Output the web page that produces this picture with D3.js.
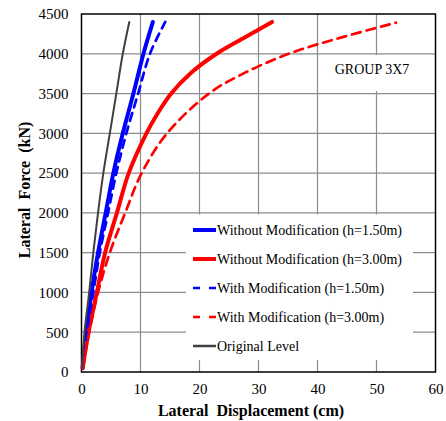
<!DOCTYPE html>
<html>
<head>
<meta charset="utf-8">
<script src="https://cdn.jsdelivr.net/npm/d3@7"></script>
<style>
  html, body { margin: 0; padding: 0; background: #fff; }
  svg { display: block; }
  svg text { font-family: "Liberation Serif", "Times New Roman", serif; fill: #000; }
</style>
</head>
<body>
<svg id="chart" width="446" height="421"></svg>
<script>
// Pushover curves: lateral displacement (cm) against lateral force (kN)
const xTicks = [0, 10, 20, 30, 40, 50, 60];
const yTicks = [0, 500, 1000, 1500, 2000, 2500, 3000, 3500, 4000, 4500];

const forceBlue = [50, 500, 1000, 1500, 2000, 2500, 3000, 3500, 4000, 4400];
const dispBlue  = [0.2, 0.8, 1.7, 2.8, 4.1, 5.4, 7.0, 8.8, 10.5, 12.1];

const forceRed = [50, 500, 1000, 1500, 2000, 2500, 3000, 3250, 3500, 3750, 4000, 4210, 4400];
const dispRed  = [0.2, 1.2, 2.6, 4.0, 6.0, 8.0, 11.0, 12.9, 15.2, 18.4, 22.9, 27.8, 32.3];

const forceBlueMod = [50, 500, 1000, 1500, 2000, 2500, 3000, 3500, 4000, 4400];
const dispBlueMod  = [0.2, 0.9, 2.0, 3.1, 4.5, 5.9, 7.6, 9.6, 11.6, 14.2];

const forceRedMod = [50, 500, 1000, 1500, 2000, 2500, 3000, 3500, 3750, 4000, 4200, 4390];
const dispRedMod  = [0.2, 1.3, 2.8, 4.8, 7.4, 10.2, 14.5, 21.6, 27.4, 35.1, 43.8, 53.3];

const forceOrig = [50, 500, 1000, 1500, 2000, 2500, 3000, 3500, 4000, 4400];
const dispOrig  = [0.1, 0.5, 1.3, 2.0, 2.8, 3.7, 4.8, 5.9, 7.0, 8.1];

const seriesNames = [
  "Without Modification (h=1.50m)",
  "Without Modification (h=3.00m)",
  "With Modification (h=1.50m)",
  "With Modification (h=3.00m)",
  "Original Level"
];

const series = [
  { name: seriesNames[0], x: dispBlue,    y: forceBlue,    color: "#0000ff", width: 4,   dash: null },
  { name: seriesNames[1], x: dispRed,     y: forceRed,     color: "#ff0000", width: 4,   dash: null },
  { name: seriesNames[2], x: dispBlueMod, y: forceBlueMod, color: "#0000ff", width: 2.7, dash: "8,6" },
  { name: seriesNames[3], x: dispRedMod,  y: forceRedMod,  color: "#ff0000", width: 2.7, dash: "9,6" },
  { name: seriesNames[4], x: dispOrig,    y: forceOrig,    color: "#404040", width: 2,   dash: null }
];

const svg = d3.select("#chart");
const plot = { left: 81.5, right: 435.5, top: 14, bottom: 372 };

const x = d3.scaleLinear().domain([0, 60]).range([plot.left, plot.right]);
const y = d3.scaleLinear().domain([0, 4500]).range([plot.bottom, plot.top]);

// grid
const grid = svg.append("g").attr("stroke", "#8c8c8c").attr("stroke-width", 1.2);
grid.selectAll("line.v").data(xTicks.slice(1, -1)).join("line")
  .attr("x1", d => x(d)).attr("x2", d => x(d))
  .attr("y1", plot.top).attr("y2", plot.bottom);
grid.selectAll("line.h").data(yTicks.slice(1, -1)).join("line")
  .attr("x1", plot.left).attr("x2", plot.right)
  .attr("y1", d => y(d)).attr("y2", d => y(d));

// axes (labels only, no outward ticks)
const xAxis = svg.append("g").attr("transform", `translate(0,${plot.bottom})`)
  .call(d3.axisBottom(x).tickValues(xTicks).tickFormat(d3.format("d")).tickSize(0).tickPadding(11));
const yAxis = svg.append("g").attr("transform", `translate(${plot.left},0)`)
  .call(d3.axisLeft(y).tickValues(yTicks).tickFormat(d3.format("d")).tickSize(0).tickPadding(13));
[xAxis, yAxis].forEach(a => {
  a.attr("font-family", null).attr("font-size", null);
  a.select(".domain").remove();
  a.selectAll("text").style("font-size", "15px");
});

// frame
svg.append("rect")
  .attr("x", plot.left).attr("y", plot.top)
  .attr("width", plot.right - plot.left).attr("height", plot.bottom - plot.top)
  .attr("fill", "none").attr("stroke", "#000").attr("stroke-width", 1.5);

// curves
const line = d3.line().curve(d3.curveCatmullRom.alpha(0.5));
const curves = svg.append("g");
series.forEach(s => {
  const pts = s.x.map((v, i) => [x(v), y(s.y[i])]);
  curves.append("path")
    .attr("d", line(pts))
    .attr("fill", "none")
    .attr("stroke", s.color)
    .attr("stroke-width", s.width)
    .attr("stroke-dasharray", s.dash)
    .attr("stroke-linecap", "round");
});

// group label
svg.append("rect").attr("x", 330).attr("y", 55).attr("width", 86).attr("height", 36).attr("fill", "#fff");
svg.append("text").attr("x", 372).attr("y", 73.5).attr("text-anchor", "middle")
  .style("font-size", "14px").text("GROUP 3X7");

// legend
const legend = svg.append("g");
legend.append("rect").attr("x", 186).attr("y", 214.5).attr("width", 227).attr("height", 145.5).attr("fill", "#fff");
series.forEach((s, i) => {
  const ly = 230 + i * 29;
  legend.append("line")
    .attr("x1", 193).attr("x2", 216).attr("y1", ly).attr("y2", ly)
    .attr("stroke", s.color)
    .attr("stroke-width", s.dash ? 2.7 : (s.width === 2 ? 2.5 : 4))
    .attr("stroke-dasharray", s.dash ? "7,9" : null);
  legend.append("text")
    .attr("x", 217).attr("y", ly + 5)
    .style("font-size", "14px").text(s.name);
});

// axis titles
svg.append("text")
  .attr("x", 251).attr("y", 416)
  .attr("text-anchor", "middle").style("font-size", "16px").style("font-weight", "bold")
  .style("white-space", "pre")
  .text("Lateral  Displacement (cm)");
svg.append("text")
  .attr("transform", "translate(29.5,190) rotate(-90)")
  .attr("text-anchor", "middle").style("font-size", "16px").style("font-weight", "bold")
  .style("white-space", "pre")
  .text("Lateral  Force  (kN)");
</script>
</body>
</html>
